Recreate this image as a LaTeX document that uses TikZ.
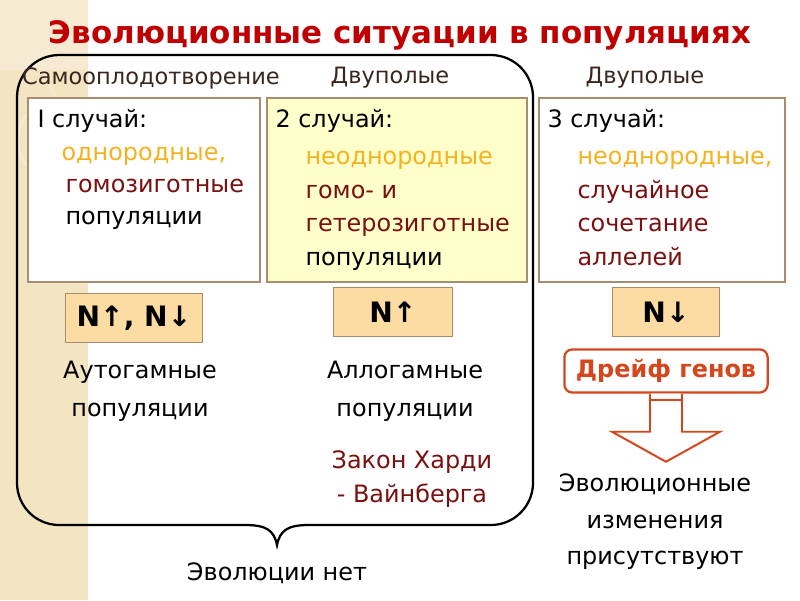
\documentclass[tikz,border=0pt]{standalone}
\usepackage{fontspec}
\setmainfont{DejaVu Sans}
\usepackage{xcolor}
\usetikzlibrary{positioning,calc}
\definecolor{titlered}{HTML}{C00000}
\definecolor{yellowtxt}{HTML}{F5B21E}
\definecolor{darkred}{HTML}{7A1010}
\definecolor{boxline}{HTML}{A88C70}
\definecolor{boxyellow}{HTML}{FFFFCC}
\definecolor{nfill}{HTML}{FCDCA2}
\definecolor{drift}{HTML}{D5461C}
\definecolor{strip}{HTML}{F3E4C2}
\definecolor{stripline}{HTML}{F6EAD2}
\definecolor{headtxt}{HTML}{3A2620}

\begin{document}
\begin{tikzpicture}[x=0.025cm,y=-0.025cm,
  every node/.style={font=\fontsize{17}{23}\selectfont},
  casebox/.style={draw=boxline,line width=1pt,inner sep=0pt,minimum height=4.6cm},
  casetext/.style={anchor=north west,align=left,inner sep=0pt},
  nbox/.style={draw=boxline,fill=nfill,line width=0.8pt,inner sep=0pt,minimum height=1.23cm,font=\fontsize{20}{24}\selectfont\bfseries},
  head/.style={text=headtxt,font=\fontsize{16}{20}\selectfont}]
\useasboundingbox (0,0) rectangle (800,600);
\fill[white] (0,0) rectangle (800,600);
% left strip of the slide
\fill[strip] (0,0) rectangle (88,600);
\begin{scope}
\clip (0,0) rectangle (88,600);
\fill[stripline] (0,0) rectangle (88,70);
\draw[stripline,line width=2pt] (58,140) circle (40);
\draw[stripline,line width=2pt] (150,40) circle (110);
\end{scope}

\node[font=\fontsize{22}{26}\selectfont\bfseries,text=titlered] (ttl) at (400,35) {Эволюционные ситуации в популяциях};

% frame with brace
\coordinate (cusp) at (277,545);
\draw[line width=1.6pt,rounded corners=30] (245,525) -- (17,525) -- (17,55) -- (533,55) -- (533,525) -- (309,525);
\draw[line width=1.6pt] (245,525) .. controls (266,525) and (274,530) .. (cusp) .. controls (280,530) and (288,525) .. (309,525);
\node[below=0.33cm of cusp] (no) {Эволюции нет};

\node[head] (h1) at (151,78) {Самооплодотворение};
\node[head] (h2) at (390,78) {Двуполые};
\node[head] (h3) at (645,78) {Двуполые};

\node[casebox,fill=white,minimum width=5.8cm] (b1) at (144,190) {};
\node[casebox,fill=boxyellow,minimum width=6.5cm] (b2) at (397,190) {};
\node[casebox,fill=white,minimum width=6.15cm] (b3) at (662,190) {};

\node[casetext] (t1) at ([shift={(10,12)}]b1.north west) {I случай:\\
  \hspace*{0.6cm}\textcolor{yellowtxt}{однородные,}\\
  \hspace*{0.7cm}\textcolor{darkred}{гомозиготные}\\
  \hspace*{0.7cm}популяции};
\node[casetext,font=\fontsize{17}{24}\selectfont] (t2) at ([shift={(9,12)}]b2.north west) {2 случай:\\[2pt]
  \hspace*{0.75cm}\textcolor{yellowtxt}{неоднородные}\\
  \hspace*{0.75cm}\textcolor{darkred}{гомо- и}\\
  \hspace*{0.75cm}\textcolor{darkred}{гетерозиготные}\\
  \hspace*{0.75cm}популяции};
\node[casetext,font=\fontsize{17}{24}\selectfont] (t3) at ([shift={(9,12)}]b3.north west) {3 случай:\\[2pt]
  \hspace*{0.75cm}\textcolor{yellowtxt}{неоднородные,}\\
  \hspace*{0.75cm}\textcolor{darkred}{случайное}\\
  \hspace*{0.75cm}\textcolor{darkred}{сочетание}\\
  \hspace*{0.75cm}\textcolor{darkred}{аллелей}};

\node[nbox,minimum width=3.43cm] (n1) at (134,318) {N↑, N↓};
\node[nbox,minimum width=2.98cm] (n2) at (393,312) {N↑};
\node[nbox,minimum width=2.68cm] (n3) at (666,312) {N↓};

\node[align=center,font=\fontsize{17}{27}\selectfont] (auto) at (140,391) {Аутогамные\\популяции};
\node[align=center,font=\fontsize{17}{27}\selectfont] (allo) at (405,391) {Аллогамные\\популяции};
\node[align=center,text=darkred,font=\fontsize{17}{24}\selectfont] (hw) at (412,479) {Закон Харди\\- Вайнберга};

\node[draw=drift,line width=1.6pt,rounded corners=0.2cm,minimum width=5.08cm,minimum height=1.08cm,
  text=drift,font=\fontsize{17}{20}\selectfont\bfseries] (dr) at (666,371) {Дрейф генов};
% hollow arrow
\draw[drift,line width=1.4pt,fill=white] ($(dr.south)+(-16,0)$) -- ++(0,38) -- ++(-38,0)
  -- ($(dr.south)+(0,68)$) -- ++(54,-30) -- ++(-38,0) -- ($(dr.south)+(16,0)$);
\draw[drift,line width=1.4pt] ($(dr.south)+(-16,6)$) -- ++(32,0);

\node[align=center,font=\fontsize{17}{26}\selectfont] (ev) at (655,522) {Эволюционные\\изменения\\присутствуют};
\end{tikzpicture}
\end{document}
